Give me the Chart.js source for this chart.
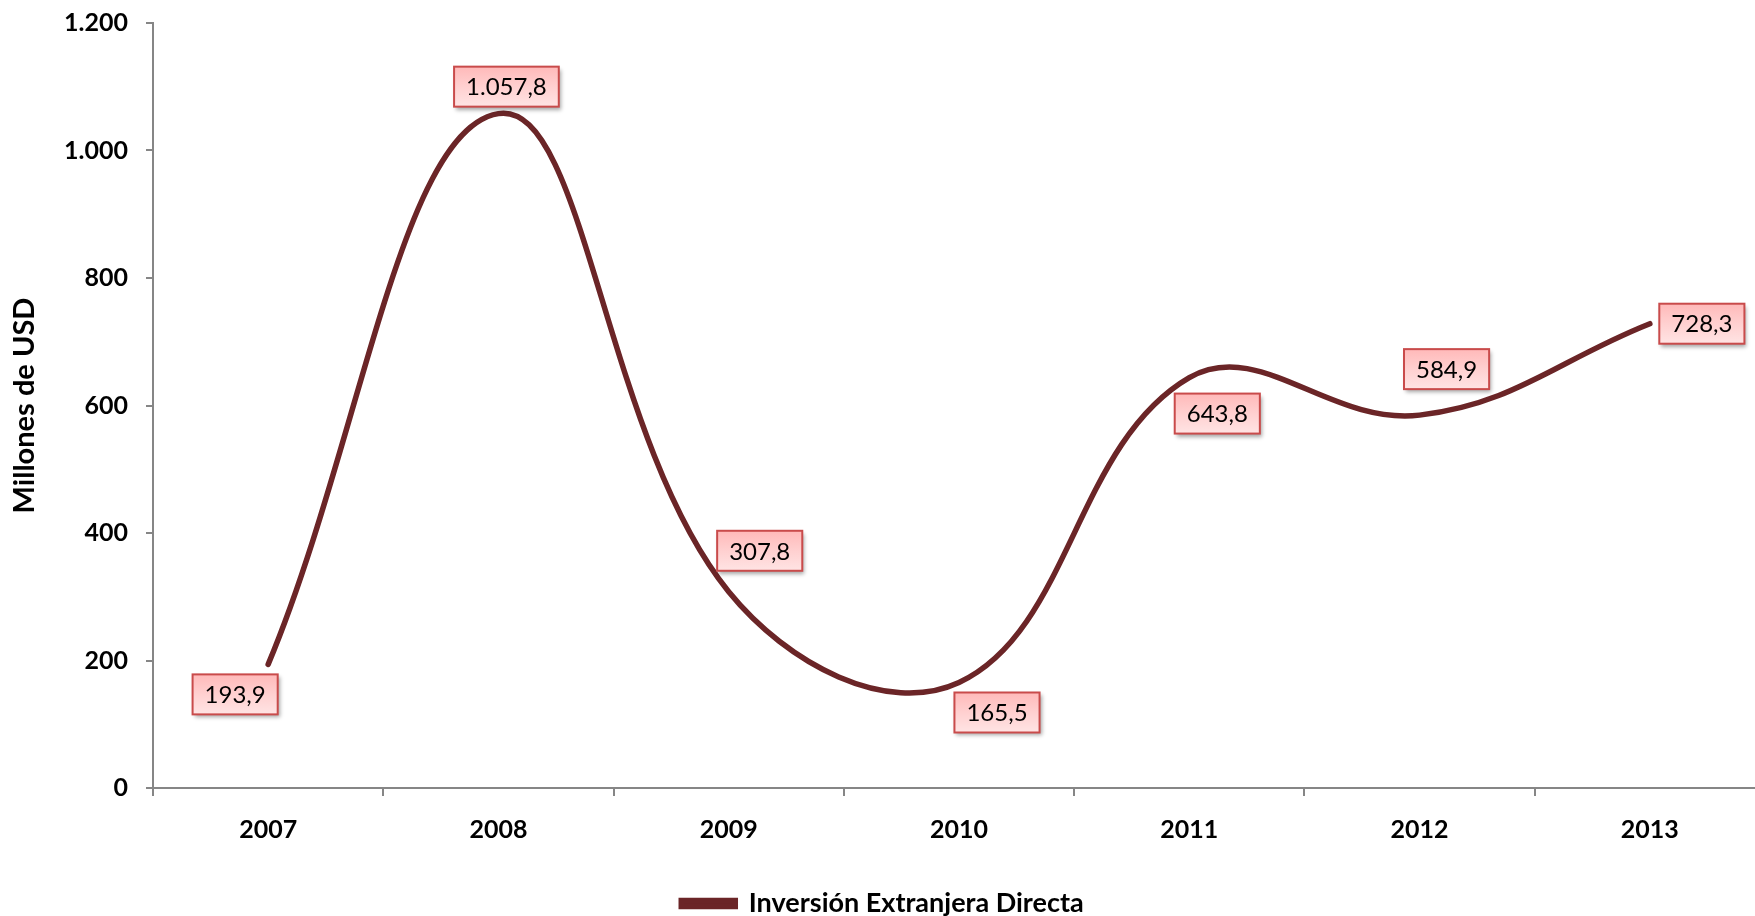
<!DOCTYPE html>
<html>
<head>
<meta charset="utf-8">
<script src="https://cdn.jsdelivr.net/npm/chart.js@4.4.1/dist/chart.umd.min.js"></script>
<style>
    html, body { margin: 0; padding: 0; background: #ffffff; overflow: hidden; }
    #ied { display: block; }
</style>
</head>
<body>
<canvas id="ied" width="1770" height="916"></canvas>
<script>
// Datos: Inversión Extranjera Directa (millones de USD)
const years = ['2007', '2008', '2009', '2010', '2011', '2012', '2013'];
const iedValues = [193.9, 1057.8, 307.8, 165.5, 643.8, 584.9, 728.3];
const seriesName = 'Inversión Extranjera Directa';
const axisTitle = 'Millones de USD';

const LINE_COLOR = '#6b2527';
const FONT = 'Lato, "Open Sans", sans-serif';

// 1057.8 -> "1.057,8"
function fmtEs(v, decimals) {
    const parts = v.toFixed(decimals).split('.');
    const intPart = parts[0].replace(/\B(?=(\d{3})+(?!\d))/g, '.');
    return parts[1] ? intPart + ',' + parts[1] : intPart;
}

// callout boxes like the Excel data labels
const boxLabels = {
    id: 'boxLabels',
    afterDatasetsDraw(chart, args, opts) {
        const ctx = chart.ctx;
        const meta = chart.getDatasetMeta(0);
        ctx.save();
        ctx.font = '24px ' + FONT;
        ctx.textAlign = 'center';
        ctx.textBaseline = 'middle';
        meta.data.forEach((pt, i) => {
            const text = fmtEs(iedValues[i], 1);
            const off = opts.offsets[i] || [0, 0];
            const cx = pt.x + off[0];
            const cy = pt.y + off[1];
            const w = ctx.measureText(text).width + 24;
            const h = 40;
            const x = cx - w / 2, y = cy - h / 2;

            ctx.save();
            ctx.shadowColor = 'rgba(0,0,0,0.35)';
            ctx.shadowBlur = 4;
            ctx.shadowOffsetX = 2;
            ctx.shadowOffsetY = 3;
            const g = ctx.createLinearGradient(0, y, 0, y + h);
            g.addColorStop(0, '#ffb9b9');
            g.addColorStop(0.5, '#ffd0d0');
            g.addColorStop(1, '#ffe4e4');
            ctx.fillStyle = g;
            ctx.fillRect(x, y, w, h);
            ctx.restore();

            ctx.strokeStyle = '#c94b4b';
            ctx.lineWidth = 2;
            ctx.strokeRect(x, y, w, h);

            ctx.fillStyle = '#000000';
            ctx.fillText(text, cx, cy + 1);
        });
        ctx.restore();
    }
};

new Chart(document.getElementById('ied').getContext('2d'), {
    type: 'line',
    data: {
        labels: years,
        datasets: [{
            label: seriesName,
            data: iedValues,
            borderColor: LINE_COLOR,
            backgroundColor: LINE_COLOR,
            borderWidth: 5.5,
            borderCapStyle: 'round',
            tension: 0.4,
            pointRadius: 0,
            fill: false
        }]
    },
    options: {
        responsive: false,
        animation: false,
        layout: { padding: { top: 23, right: 5, left: 0, bottom: -11 } },
        plugins: {
            tooltip: { enabled: false },
            legend: {
                position: 'bottom',
                labels: {
                    color: '#000000',
                    font: { family: FONT, size: 27, weight: 'bold' },
                    boxWidth: 54,
                    boxHeight: 6,
                    padding: 4
                }
            },
            boxLabels: {
                offsets: [[-33, 30], [8, -27], [31, -41], [38, 30], [28, 36], [27, -46], [52, 0]]
            }
        },
        scales: {
            x: {
                offset: true,
                afterFit(scale) { scale.height = 98; },
                border: { color: '#868686', width: 2 },
                grid: {
                    offset: true,
                    drawOnChartArea: false,
                    color: '#868686',
                    lineWidth: 2,
                    tickLength: 8
                },
                ticks: {
                    color: '#000000',
                    padding: 19,
                    font: { family: FONT, size: 25, weight: 'bold' }
                }
            },
            y: {
                min: 0,
                max: 1200,
                afterFit(scale) {
                    scale.width = 153;
                    scale.paddingTop = 0;
                    scale.paddingBottom = 0;
                },
                border: { color: '#868686', width: 2 },
                grid: {
                    drawOnChartArea: false,
                    color: '#868686',
                    lineWidth: 2,
                    tickLength: 7
                },
                ticks: {
                    stepSize: 200,
                    color: '#000000',
                    padding: 18,
                    font: { family: FONT, size: 25, weight: 'bold' },
                    callback: v => fmtEs(v, 0)
                },
                title: {
                    display: true,
                    text: axisTitle,
                    color: '#000000',
                    padding: { top: 7, bottom: 0 },
                    font: { family: FONT, size: 29, weight: 'bold' }
                }
            }
        }
    },
    plugins: [boxLabels]
});
</script>
</body>
</html>
